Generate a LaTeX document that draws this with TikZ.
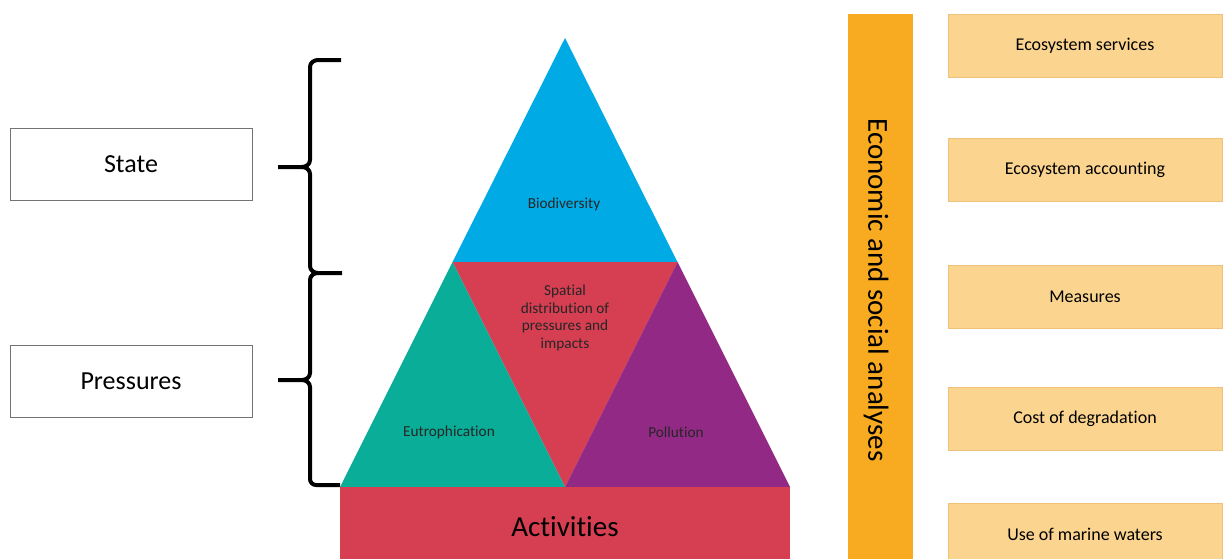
\documentclass[tikz,border=0pt]{standalone}
\usepackage{fontspec}
\setmainfont{Carlito}[Ligatures=NoCommon]
\definecolor{bioblue}{HTML}{00AAE5}
\definecolor{tealc}{HTML}{0AAD98}
\definecolor{redc}{HTML}{D63E52}
\definecolor{purplec}{HTML}{922985}
\definecolor{orangebar}{HTML}{F8AB20}
\definecolor{boxfill}{HTML}{FBD590}
\definecolor{boxline}{HTML}{EFC27C}
\tikzset{
  labelbox/.style={draw=black!55, line width=0.8pt, fill=white, minimum width=242pt, minimum height=72pt, font=\fontsize{26}{30}\selectfont, inner sep=0pt},
  rbox/.style={draw=boxline, line width=1pt, fill=boxfill, minimum width=274pt, minimum height=63pt, font=\fontsize{18}{21}\selectfont, inner sep=0pt},
  tritext/.style={font=\fontsize{15.3}{17.5}\selectfont, text=black!85, align=center, inner sep=0pt},
  bracepath/.style={line width=4pt, line join=round}
}
\begin{document}
\begin{tikzpicture}[x=1pt,y=-1pt]
\useasboundingbox (0,0) rectangle (1227,558);
\clip (0,0) rectangle (1227,558);
% pyramid
\coordinate (apex) at (565,38);
\coordinate (ml) at (452.5,262);
\coordinate (mr) at (677.5,262);
\coordinate (bl) at (340,487);
\coordinate (bm) at (565,487);
\coordinate (br) at (790,487);
\fill[bioblue] (apex) -- (ml) -- (mr) -- cycle;
\fill[redc] (ml) -- (mr) -- (bm) -- cycle;
\fill[tealc] (ml) -- (bl) -- (bm) -- cycle;
\fill[purplec] (mr) -- (bm) -- (br) -- cycle;
\fill[redc] (340,487) rectangle (790,570);
\node[tritext] (bio) at (564,204) {Biodiversity};
\node[tritext] (spat) at (565,318) {Spatial\\distribution of\\pressures and\\impacts};
\node[tritext] (eut) at (449,432) {Eutrophication};
\node[tritext] (pol) at (676,432) {Pollution};
\node[font=\fontsize{29}{34}\selectfont, inner sep=0pt] (act) at (565,527) {Activities};
% left boxes
\node[labelbox] (state) at (131,164) {State};
\node[labelbox] (press) at (131,381.5) {Pressures};
% braces
\draw[bracepath] (341,60) -- (318,60) to[out=180,in=90] (310,67) -- (310,160)
  to[out=-90,in=0] (302,167) -- (278,167);
\draw[bracepath] (302,167) to[out=0,in=90] (310,174) -- (310,266) to[out=-90,in=180] (318,273) -- (342,273);
\draw[bracepath] (318,273) to[out=180,in=90] (310,280) -- (310,373)
  to[out=-90,in=0] (302,380) -- (278,380);
\draw[bracepath] (302,380) to[out=0,in=90] (310,387) -- (310,479) to[out=-90,in=180] (316,485) -- (340,485);
% orange bar
\fill[orangebar] (848,14) rectangle (913,570);
\node[rotate=-90, font=\fontsize{29}{34}\selectfont, inner sep=0pt] (econ) at (876,290) {Economic and social analyses};
% right boxes
\node[rbox] (es) at (1085,45.5) {Ecosystem services};
\node[rbox] (ea) at (1085,170) {Ecosystem accounting};
\node[rbox] (me) at (1085,297) {Measures};
\node[rbox] (cd) at (1085,418.5) {Cost of degradation};
\node[rbox] (um) at (1085,534.5) {Use of marine waters};
\end{tikzpicture}
\end{document}
